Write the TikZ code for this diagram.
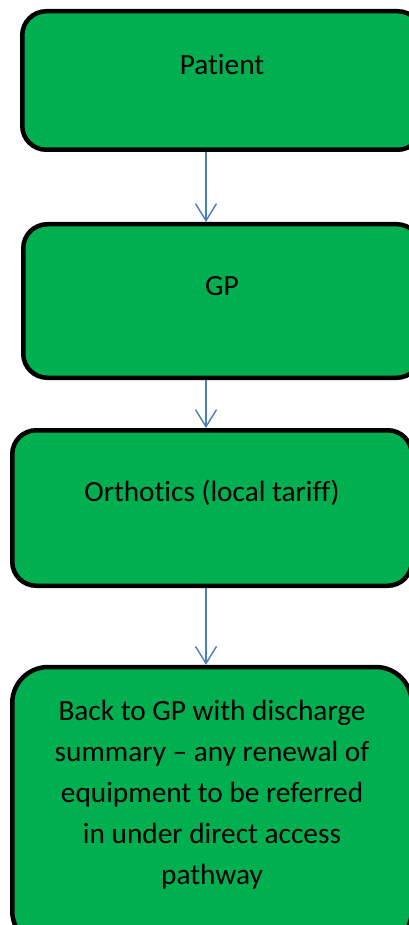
\documentclass[tikz,border=0pt]{standalone}
\usepackage{fontspec}
\setmainfont{Carlito}[Ligatures={NoCommon,NoRare}]
\usetikzlibrary{arrows.meta}
\definecolor{boxgreen}{HTML}{00B050}
\definecolor{arrowblue}{HTML}{4A7EBB}
\begin{document}
\begin{tikzpicture}[x=1pt,y=-1pt,
  flowbox/.style={draw=black, line width=4.5pt, fill=boxgreen, rounded corners=24pt, inner sep=0pt},
  boxtext/.style={font=\fontsize{29.3}{41}\selectfont, text=black, align=center, inner sep=0pt},
  flowarrow/.style={draw=arrowblue, line width=1.4pt, -{Straight Barb[length=17pt,width=21pt,line width=1.4pt]}}]
\clip (0,0) rectangle (409,925);
\fill[white] (0,0) rectangle (409,925);
\node[flowbox, minimum width=399.5pt, minimum height=138.5pt] (b1) at (222,80.5) {};
\node[flowbox, minimum width=397.5pt, minimum height=153.5pt] (b2) at (222,301) {};
\node[flowbox, minimum width=399.5pt, minimum height=155.5pt] (b3) at (212,508) {};
\node[flowbox, rounded corners=36pt, minimum width=399.5pt, minimum height=280pt] (b4) at (212,807) {};
\node[boxtext] (t1) at (222,65) {Patient};
\node[boxtext] (t2) at (222,286) {GP};
\node[boxtext] (t3) at (212,493) {Orthotics (local tariff)};
\node[boxtext] (t4) at (212,795) {Back to GP with discharge\\summary -- any renewal of\\equipment to be referred\\in under direct access\\pathway};
\coordinate (ax) at (206,0);
\draw[flowarrow] (b1.south -| ax) -- (b2.north -| ax);
\draw[flowarrow] (b2.south -| ax) -- (b3.north -| ax);
\draw[flowarrow] (b3.south -| ax) -- (b4.north -| ax);
\end{tikzpicture}
\end{document}
